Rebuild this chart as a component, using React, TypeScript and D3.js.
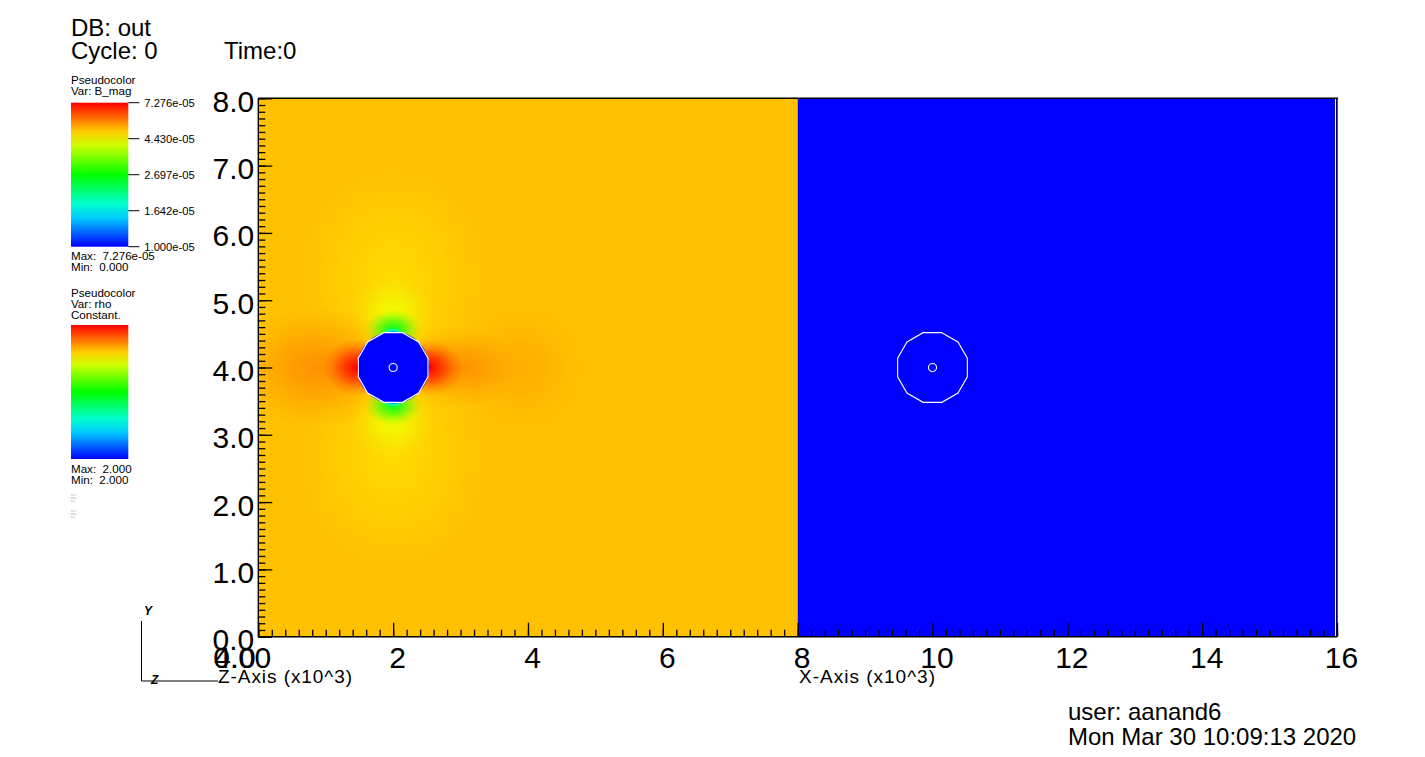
import React, { useEffect, useRef } from "react";
import * as d3 from "d3";

// axis ticks (x10^3)
const xMajor = [0, 2, 4, 6, 8, 10, 12, 14, 16];
const yMajor = [0, 1, 2, 3, 4, 5, 6, 7, 8];
const zJunk = ["0.0", "4.0"];

// B_mag legend
const bmagMin = 1.0e-5;
const bmagMax = 7.276e-5;
const bmagTicks = [1.0e-5, 1.642e-5, 2.697e-5, 4.43e-5, 7.276e-5];
const bmagLabelMax = "7.276e-05";
const bmagLabelMin = "0.000";

// rho legend (constant field)
const rhoValue = 2.0;
const rhoLabelMax = "2.000";
const rhoLabelMin = "2.000";

// B_mag field: background level plus lobes around the sphere at (2, 4)
const bgValue = 5.0e-5;
const lobeX = [2.0, 2.0, 3.9, 0.9, 3.0, 2.0, 2.0, 2.0, 2.0, 2.0, 2.0, 1.47, 2.53];
const lobeY = [5.3, 2.7, 4.0, 4.0, 4.0, 4.78, 3.22, 4.56, 3.44, 4.53, 3.47, 4.0, 4.0];
const lobeRx = [1.5, 1.5, 0.95, 1.3, 0.9, 0.62, 0.62, 0.42, 0.42, 0.16, 0.16, 0.5, 0.5];
const lobeRy = [1.8, 1.8, 0.95, 0.9, 0.6, 0.6, 0.6, 0.3, 0.3, 0.07, 0.07, 0.42, 0.42];
const lobeValue = [
  4.75e-5, 4.75e-5, 5.2e-5, 5.5e-5, 5.5e-5, 4.3e-5, 4.3e-5, 2.6e-5, 2.6e-5, 1.64e-5, 1.64e-5, 7.276e-5,
  7.276e-5,
];

// spheres (sphere boundary + centre marker)
const sphereX = [2, 10];
const sphereY = [4, 4];
const sphereR = 0.535;
const coreR = 0.06;
const diskValue = 1.0e-5;

const FONT = "'Liberation Sans', Arial, sans-serif";

const ramp = d3
  .scaleLinear<string>()
  .domain([0, 0.25, 0.5, 0.75, 1])
  .range(["#0000ff", "#00ffff", "#00ff00", "#ffff00", "#ff0000"])
  .interpolate(d3.interpolateRgb);
const tScale = d3.scaleLog().domain([bmagMin, bmagMax]).range([0, 1]).clamp(true);
const colorOf = (v: number) => ramp(tScale(v));
// rho is constant, min == max -> bottom of the table
const rhoColor = ramp(rhoValue > rhoValue ? 1 : 0);

const fmtExp = (v: number) => v.toExponential(3).replace(/e([+-])(\d)$/, "e$10$2");

export default function App() {
  const yMinorRef = useRef<SVGGElement>(null);
  const yMajorRef = useRef<SVGGElement>(null);
  const yLabelRef = useRef<SVGGElement>(null);
  const xMinorRef = useRef<SVGGElement>(null);
  const xMajorRef = useRef<SVGGElement>(null);
  const xLabelRef = useRef<SVGGElement>(null);

  const x = d3.scaleLinear().domain([0, 16]).range([258.3, 1337]);
  const y = d3.scaleLinear().domain([0, 8]).range([636.7, 98.3]);
  const legendY = d3.scaleLog().domain([bmagMin, bmagMax]).range([246.7, 102.7]);

  useEffect(() => {
    const minorY = d3.range(0, 81).map((i) => i / 10);
    const minorX = d3.range(0, 81).map((i) => i / 5);

    const tidy = (g: any) => {
      g.select(".domain").remove();
      g.selectAll("line").attr("stroke", "#000").attr("stroke-width", 1.3);
    };

    select(yMinorRef).call(d3.axisRight(y).tickValues(minorY).tickSize(7).tickFormat(() => "")).call(tidy);
    select(yMajorRef).call(d3.axisRight(y).tickValues(yMajor).tickSize(14).tickFormat(() => "")).call(tidy);
    select(xMinorRef).call(d3.axisTop(x).tickValues(minorX).tickSize(7).tickFormat(() => "")).call(tidy);
    select(xMajorRef).call(d3.axisTop(x).tickValues(xMajor).tickSize(14).tickFormat(() => "")).call(tidy);

    const yl = select(yLabelRef).call(
      d3.axisLeft(y).tickValues(yMajor).tickSize(0).tickPadding(4).tickFormat(d3.format(".1f"))
    );
    yl.select(".domain").remove();
    yl.attr("font-family", FONT).attr("font-size", 30);
    yl.selectAll("text").attr("dy", "0.43em").attr("fill", "#000");

    const xl = select(xLabelRef).call(
      d3.axisBottom(x).tickValues(xMajor).tickSize(0).tickPadding(10).tickFormat(d3.format("d"))
    );
    xl.select(".domain").remove();
    xl.attr("font-family", FONT).attr("font-size", 30);
    xl.selectAll("text").attr("dx", 4).attr("fill", "#000");
  }, []);

  function select(ref: React.RefObject<SVGGElement | null>) {
    return d3.select(ref.current as SVGGElement);
  }

  const ring = d3
    .lineRadial<number>()
    .angle((d) => d)
    .radius(x(sphereR) - x(0))
    .curve(d3.curveLinearClosed);
  const ringAngles = d3.range(12).map((i) => (Math.PI / 180) * (15 + 30 * i));

  const rampStops = d3.range(0, 11).map((i) => i / 10);
  const barX = 71;
  const barW = 57.3;

  return (
    <svg width={1425} height={757} style={{ position: "absolute", left: 0, top: 0, background: "#fff" }}>
      <defs>
        <linearGradient id="ctable" x1="0" y1="1" x2="0" y2="0">
          {rampStops.map((t) => (
            <stop key={t} offset={t} stopColor={ramp(t)} />
          ))}
        </linearGradient>
        {lobeValue.map((v, i) => (
          <radialGradient key={i} id={`lobe${i}`}>
            <stop offset="0" stopColor={colorOf(v)} stopOpacity={1} />
            <stop offset="0.4" stopColor={colorOf(v)} stopOpacity={0.6} />
            <stop offset="0.75" stopColor={colorOf(v)} stopOpacity={0.18} />
            <stop offset="1" stopColor={colorOf(v)} stopOpacity={0} />
          </radialGradient>
        ))}
        <clipPath id="leftHalf">
          <rect x={x(0)} y={y(8)} width={x(8) - x(0)} height={y(0) - y(8)} />
        </clipPath>
      </defs>

      {/* header */}
      <g fontFamily={FONT} fontSize={24} fill="#000">
        <text x={71} y={36}>DB: out</text>
        <text x={71} y={59}>Cycle: 0</text>
        <text x={224} y={59}>Time:0</text>
        <text x={1068} y={720}>user: aanand6</text>
        <text x={1068} y={745}>Mon Mar 30 10:09:13 2020</text>
      </g>

      {/* legend: B_mag */}
      <g fontFamily={FONT} fontSize={11.6} fill="#000">
        <text x={71} y={84}>Pseudocolor</text>
        <text x={71} y={95}>Var: B_mag</text>
        <rect x={barX} y={legendY(bmagMax)} width={barW} height={legendY(bmagMin) - legendY(bmagMax)} fill="url(#ctable)" />
        {bmagTicks.map((v) => (
          <g key={v}>
            <line x1={barX + barW} x2={barX + barW + 11} y1={legendY(v)} y2={legendY(v)} stroke="#000" strokeWidth={1} />
            <text x={barX + barW + 16} y={legendY(v) + 4} fontSize={11.2}>
              {fmtExp(v)}
            </text>
          </g>
        ))}
        <text x={71} y={260} xmlSpace="preserve">{`Max:  ${bmagLabelMax}`}</text>
        <text x={71} y={271} xmlSpace="preserve">{`Min:  ${bmagLabelMin}`}</text>
      </g>

      {/* legend: rho */}
      <g fontFamily={FONT} fontSize={11.6} fill="#000">
        <text x={71} y={297}>Pseudocolor</text>
        <text x={71} y={308}>Var: rho</text>
        <text x={71} y={318.5}>Constant.</text>
        <rect x={barX} y={325} width={barW} height={134} fill="url(#ctable)" />
        <text x={71} y={473} xmlSpace="preserve">{`Max:  ${rhoLabelMax}`}</text>
        <text x={71} y={483.5} xmlSpace="preserve">{`Min:  ${rhoLabelMin}`}</text>
      </g>
      <g fontFamily={FONT} fontSize={2.6} fill="#9a9a9a">
        {[496, 499, 502, 512, 515, 518].map((ty, i) => (
          <text key={i} x={71} y={ty}>
            {i % 3 === 0 ? "x-x --" : i % 3 === 1 ? "xx-x-" : "x-x"}
          </text>
        ))}
      </g>

      {/* B_mag field, left block */}
      <g clipPath="url(#leftHalf)">
        <rect x={x(0)} y={y(8)} width={x(8) - x(0)} height={y(0) - y(8)} fill={colorOf(bgValue)} />
        {lobeValue.map((_, i) => (
          <ellipse
            key={i}
            cx={x(lobeX[i])}
            cy={y(lobeY[i])}
            rx={x(lobeRx[i]) - x(0)}
            ry={y(0) - y(lobeRy[i])}
            fill={`url(#lobe${i})`}
          />
        ))}
        <circle cx={x(sphereX[0])} cy={y(sphereY[0])} r={x(sphereR) - x(0)} fill={colorOf(diskValue)} />
      </g>

      {/* rho field, right block */}
      <rect x={x(8)} y={y(8)} width={x(16) - x(8)} height={y(0) - y(8)} fill={rhoColor} />

      {/* sphere outlines */}
      {sphereX.map((sx, i) => (
        <g key={i} transform={`translate(${x(sx)},${y(sphereY[i])})`} fill="none" stroke="#fff" strokeWidth={1.1}>
          <path d={ring(ringAngles) ?? ""} />
          <circle r={x(coreR) - x(0)} />
        </g>
      ))}

      {/* frame */}
      <line x1={x(16) - 1.5} x2={x(16) - 1.5} y1={y(8)} y2={y(0)} stroke="#fff" strokeWidth={1} />
      <g stroke="#000" strokeWidth={1.4}>
        <line x1={x(0)} x2={x(16) + 1} y1={y(8)} y2={y(8)} />
        <line x1={x(16)} x2={x(16)} y1={y(8)} y2={y(0)} />
        <line x1={x(0)} x2={x(0)} y1={y(8)} y2={y(0)} />
        <line x1={x(0)} x2={x(16)} y1={y(0)} y2={y(0)} />
      </g>

      {/* axes */}
      <g ref={yMinorRef} transform={`translate(${x(0)},0)`} />
      <g ref={yMajorRef} transform={`translate(${x(0)},0)`} />
      <g ref={yLabelRef} transform={`translate(${x(0)},0)`} />
      <g ref={xMinorRef} transform={`translate(0,${y(0)})`} />
      <g ref={xMajorRef} transform={`translate(0,${y(0)})`} />
      <g ref={xLabelRef} transform={`translate(0,${y(0)})`} />

      {/* collapsed z-axis labels piled up at the corner */}
      <g fontFamily={FONT} fontSize={30} fill="#000" textAnchor="end">
        {zJunk.map((s, i) => (
          <text key={s} x={255 + i * 0.6} y={668}>
            {s}
          </text>
        ))}
      </g>

      <g fontFamily={FONT} fontSize={19} fill="#000">
        <text x={218} y={683} textLength={134} lengthAdjust="spacing">
          Z-Axis (x10^3)
        </text>
        <text x={799} y={683} textLength={136} lengthAdjust="spacing">
          X-Axis (x10^3)
        </text>
      </g>

      {/* view triad */}
      <g stroke="#000" strokeWidth={1}>
        <line x1={141.5} x2={141.5} y1={621} y2={681} />
        <line x1={141.5} x2={218} y1={681} y2={681} />
      </g>
      <g fontFamily={FONT} fontSize={12} fontStyle="italic" fontWeight="bold" fill="#000">
        <text x={144} y={615}>Y</text>
        <text x={151} y={684}>Z</text>
      </g>
    </svg>
  );
}
